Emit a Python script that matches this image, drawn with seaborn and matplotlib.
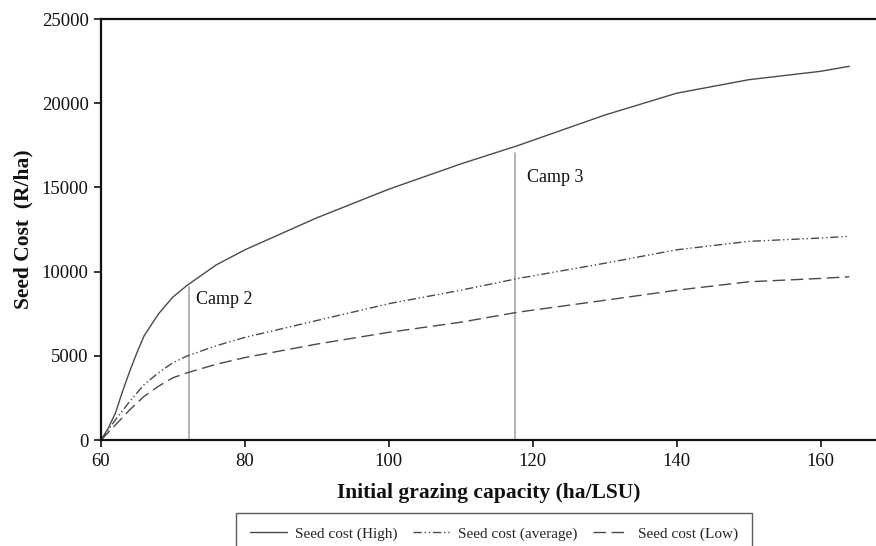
import matplotlib
matplotlib.use("Agg")
import matplotlib.pyplot as plt
import seaborn as sns
import pandas as pd

x_high = [60, 61, 62, 63, 64, 65, 66, 68, 70, 72, 76, 80, 90, 100, 110, 118, 120, 130, 140, 150, 160, 164]
y_high = [0, 700, 1600, 2900, 4100, 5200, 6200, 7500, 8500, 9200, 10400, 11300, 13200, 14900, 16400, 17500, 17800, 19300, 20600, 21400, 21900, 22200]
x_avg = [60, 62, 64, 66, 68, 70, 72, 76, 80, 90, 100, 110, 118, 130, 140, 150, 160, 164]
y_avg = [0, 1200, 2300, 3300, 4000, 4600, 5000, 5600, 6100, 7100, 8100, 8900, 9600, 10500, 11300, 11800, 12000, 12100]
x_low = [60, 62, 64, 66, 68, 70, 72, 76, 80, 90, 100, 110, 118, 130, 140, 150, 160, 164]
y_low = [0, 900, 1800, 2600, 3200, 3700, 4000, 4500, 4900, 5700, 6400, 7000, 7600, 8300, 8900, 9400, 9600, 9700]
series_names = ["Seed cost (High)", "Seed cost (average)", "Seed cost (Low)"]
camp_x = [72.2, 117.5]
camp_top = [9100, 17050]
camp_labels = ["Camp 2", "Camp 3"]
xticks = [60, 80, 100, 120, 140, 160]
yticks = [0, 5000, 10000, 15000, 20000, 25000]

sns.set_theme(style="white")
plt.rcParams['font.family'] = ['Liberation Serif', 'DejaVu Serif']

fig = plt.figure(figsize=(8.76, 5.46), dpi=100)
ax = fig.add_axes([0.1153, 0.194, 0.8847, 0.771])

for xs, ys, name, ls in [(x_high, y_high, series_names[0], '-'),
                         (x_avg, y_avg, series_names[1], (0, (6, 2, 1, 2, 1, 2))),
                         (x_low, y_low, series_names[2], (0, (9, 4)))]:
    df = pd.DataFrame({"x": xs, "y": ys})
    sns.lineplot(data=df, x="x", y="y", ax=ax, color="#4a4a4a", lw=1.0, linestyle=ls, label=name)

for cx, ct in zip(camp_x, camp_top):
    ax.plot([cx, cx], [0, ct], color="#a8a8a8", lw=1.2, zorder=1)
for cx, ct, lab, dx, dy in zip(camp_x, camp_top, camp_labels, [1.0, 1.7], [-230, -970]):
    ax.text(cx + dx, ct + dy, lab, fontsize=13, va="top", ha="left", color="#111111")

ax.set_xlim(60, 167.7)
ax.set_ylim(0, 25000)
ax.set_xticks(xticks)
ax.set_yticks(yticks)
ax.tick_params(axis='both', labelsize=13.5, colors="#111111", direction='out', length=5, width=1.2, left=True, bottom=True, pad=4)
ax.set_xlabel("Initial grazing capacity (ha/LSU)", fontsize=15.5, fontweight='bold', color="#111111", labelpad=10)
ax.set_ylabel("Seed Cost  (R/ha)", fontsize=15.5, fontweight='bold', color="#111111", labelpad=6)
for s in ['left', 'bottom', 'top']:
    ax.spines[s].set_color("#111111")
    ax.spines[s].set_linewidth(1.6)
ax.spines['right'].set_visible(False)

leg = ax.legend(loc='upper center', bbox_to_anchor=(0.507, -0.155), ncol=3, fontsize=11,
                frameon=True, fancybox=False, edgecolor="#333333", handlelength=2.4,
                columnspacing=1.0, handletextpad=0.55, borderpad=0.9, borderaxespad=0.5)
leg.get_frame().set_linewidth(1.0)

fig.savefig("out.png", dpi=100)
